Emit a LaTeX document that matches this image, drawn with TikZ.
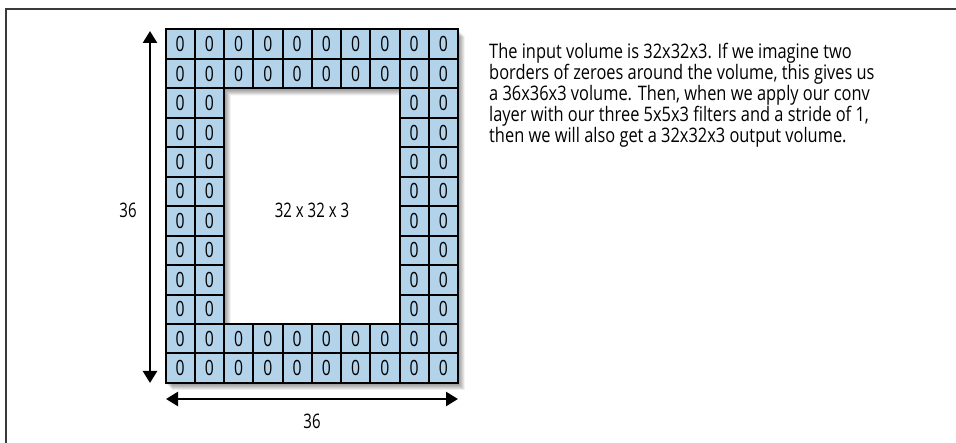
\documentclass[tikz,border=0pt]{standalone}
\usepackage{fontspec}
\setmainfont[FakeStretch=0.82]{Open Sans}
\newfontfamily\narrowfont[FakeStretch=0.75]{Open Sans}
\usetikzlibrary{arrows.meta}
\definecolor{cellblue}{HTML}{B2D3EA}
\definecolor{framegray}{HTML}{3A3A3A}
\begin{document}
\begin{tikzpicture}[x=1pt,y=-1pt,
  cell/.style={draw=black, line width=2pt, fill=cellblue, minimum width=29.25pt,
    minimum height=29.45pt, inner sep=0pt, outer sep=0pt, font=\narrowfont\fontsize{21}{21}\selectfont},
  lbl/.style={inner sep=0pt, font=\narrowfont\fontsize{20}{20}\selectfont},
  dimarrow/.style={line width=2.5pt, {Triangle[width=14pt,length=12pt]}-{Triangle[width=14pt,length=12pt]}},
  shadowfill/.style={fill=black, opacity=0.07, even odd rule}
]
\useasboundingbox (0,0) rectangle (956,443);
\fill[white] (0,0) rectangle (956,443);
% frame lines
\coordinate (fa) at (6,9);
\coordinate (fb) at (956,9);
\coordinate (fc) at (6,443);
\draw[framegray, line width=1.3pt] (fb) -- (fa) -- (fc);
% shadow
\foreach \d in {1.5,2.5,3.5,4.5,5.5,6.5}{
  \fill[shadowfill, shift={(\d,\d+0.5)}]
    (165.5,29.5) rectangle (458,383)
    (224,88.4) rectangle (399.5,324);
}
% cells
\foreach \i in {0,...,9}{
  \foreach \j in {0,1,10,11}{
    \node[cell] (c-\i-\j) at ({165.5+29.25*(\i+0.5)},{29.5+29.45*(\j+0.5)}) {0};
  }
}
\foreach \i in {0,1,8,9}{
  \foreach \j in {2,...,9}{
    \node[cell] (c-\i-\j) at ({165.5+29.25*(\i+0.5)},{29.5+29.45*(\j+0.5)}) {0};
  }
}
% dimension arrows
\coordinate (vt) at (150,31);
\coordinate (vb) at (150,383);
\draw[dimarrow] (vt) -- (vb);
\coordinate (hl) at (166,399);
\coordinate (hr) at (458,399);
\draw[dimarrow] (hl) -- (hr);
% labels
\node[lbl] (h36) at (128,210) {36};
\node[lbl] (inner) at (312,210) {32 x 32 x 3};
\node[lbl] (w36) at (312,421) {36};
\node[anchor=base west, align=left, inner sep=0pt, font=\fontsize{20}{21}\selectfont] (desc) at (489,142.3)
  {The input volume is 32x32x3. If we imagine two\\
   borders of zeroes around the volume, this gives us\\
   a 36x36x3 volume. Then, when we apply our conv\\
   layer with our three 5x5x3 filters and a stride of 1,\\
   then we will also get a 32x32x3 output volume.};
\end{tikzpicture}
\end{document}
